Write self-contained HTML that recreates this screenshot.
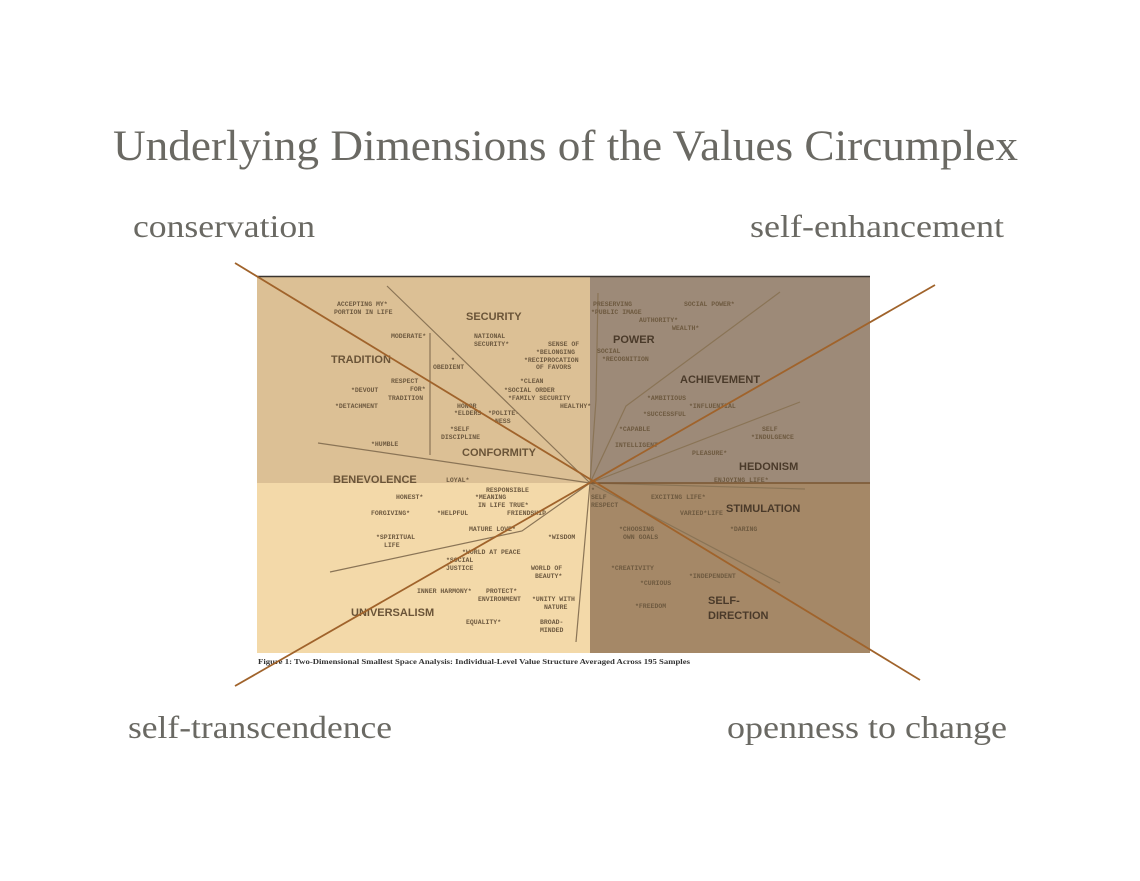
<!DOCTYPE html>
<html><head><meta charset="utf-8"><style>
html,body{margin:0;padding:0;background:#fff;}
body{width:1140px;height:881px;overflow:hidden;}
</style></head><body>
<svg width="1140" height="881" xmlns="http://www.w3.org/2000/svg" style="display:block">
<g font-family="Liberation Serif, serif" fill="#6a6963">
<text x="113" y="160" font-size="43" textLength="905" lengthAdjust="spacingAndGlyphs">Underlying Dimensions of the Values Circumplex</text>
<text x="133" y="237" font-size="32" textLength="182" lengthAdjust="spacingAndGlyphs">conservation</text>
<text x="750" y="237" font-size="32" textLength="254" lengthAdjust="spacingAndGlyphs">self-enhancement</text>
<text x="128" y="738" font-size="32" textLength="264" lengthAdjust="spacingAndGlyphs">self-transcendence</text>
<text x="727" y="738" font-size="32" textLength="280" lengthAdjust="spacingAndGlyphs">openness to change</text>
</g>
<rect x="257" y="276" width="333" height="207" fill="#dcc095"/>
<rect x="590" y="276" width="280" height="207" fill="#9d8a78"/>
<rect x="257" y="483" width="333" height="170" fill="#f3d9a9"/>
<rect x="590" y="483" width="280" height="170" fill="#a58867"/>
<line x1="257" y1="276.5" x2="870" y2="276.5" stroke="#3a3530" stroke-width="1.5"/>
<g stroke="#8a7456" stroke-width="1.2" fill="none">
<polyline points="387,286 590,483"/>
<line x1="430" y1="333" x2="430" y2="455"/>
<line x1="318" y1="443" x2="590" y2="483"/>
<polyline points="590,483 626,406 780,292"/>
<line x1="590" y1="483" x2="800" y2="402"/>
<line x1="590" y1="483" x2="805" y2="489"/>
<polyline points="590,483 522,531 330,572"/>
<line x1="590" y1="483" x2="576" y2="642"/>
<line x1="590" y1="483" x2="780" y2="583"/>
<polyline points="598,293 596,400 590,483"/>
</g>
<line x1="590" y1="483" x2="870" y2="483" stroke="#7a5530" stroke-width="1.5"/>
<g font-family="Liberation Mono, monospace" font-size="6.5" fill="#6e5a40" font-weight="bold">
<text x="337" y="306">ACCEPTING MY*</text><text x="334" y="314">PORTION IN LIFE</text>
<text x="391" y="338">MODERATE*</text>
<text x="474" y="338">NATIONAL</text><text x="474" y="346">SECURITY*</text>
<text x="548" y="346">SENSE OF</text><text x="536" y="354">*BELONGING</text><text x="524" y="362">*RECIPROCATION</text><text x="536" y="369">OF FAVORS</text>
<text x="451" y="362">*</text><text x="433" y="369">OBEDIENT</text>
<text x="391" y="383">RESPECT</text><text x="410" y="391">FOR*</text><text x="388" y="400">TRADITION</text>
<text x="351" y="392">*DEVOUT</text><text x="335" y="408">*DETACHMENT</text>
<text x="520" y="383">*CLEAN</text><text x="504" y="392">*SOCIAL ORDER</text><text x="508" y="400">*FAMILY SECURITY</text><text x="560" y="408">HEALTHY*</text>
<text x="457" y="408">HONOR</text><text x="454" y="415">*ELDERS</text><text x="488" y="415">*POLITE-</text><text x="495" y="423">NESS</text>
<text x="450" y="431">*SELF</text><text x="441" y="439">DISCIPLINE</text>
<text x="371" y="446">*HUMBLE</text>
<text x="446" y="482">LOYAL*</text>
<text x="593" y="306">PRESERVING</text><text x="591" y="314">*PUBLIC IMAGE</text>
<text x="684" y="306">SOCIAL POWER*</text><text x="639" y="322">AUTHORITY*</text><text x="672" y="330">WEALTH*</text>
<text x="597" y="353">SOCIAL</text><text x="602" y="361">*RECOGNITION</text>
<text x="647" y="400">*AMBITIOUS</text><text x="689" y="408">*INFLUENTIAL</text><text x="643" y="416">*SUCCESSFUL</text>
<text x="619" y="431">*CAPABLE</text><text x="615" y="447">INTELLIGENT</text>
<text x="762" y="431">SELF</text><text x="751" y="439">*INDULGENCE</text>
<text x="692" y="455">PLEASURE*</text><text x="714" y="482">ENJOYING LIFE*</text>
<text x="486" y="492">RESPONSIBLE</text><text x="475" y="499">*MEANING</text><text x="478" y="507">IN LIFE  TRUE*</text><text x="507" y="515">FRIENDSHIP</text>
<text x="396" y="499">HONEST*</text><text x="371" y="515">FORGIVING*</text><text x="437" y="515">*HELPFUL</text>
<text x="469" y="531">MATURE LOVE*</text><text x="548" y="539">*WISDOM</text>
<text x="376" y="539">*SPIRITUAL</text><text x="384" y="547">LIFE</text>
<text x="462" y="554">*WORLD AT PEACE</text><text x="446" y="562">*SOCIAL</text><text x="446" y="570">JUSTICE</text>
<text x="531" y="570">WORLD OF</text><text x="535" y="578">BEAUTY*</text>
<text x="417" y="593">INNER HARMONY*</text><text x="486" y="593">PROTECT*</text><text x="478" y="601">ENVIRONMENT</text>
<text x="532" y="601">*UNITY WITH</text><text x="544" y="609">NATURE</text>
<text x="466" y="624">EQUALITY*</text><text x="540" y="624">BROAD-</text><text x="540" y="632">MINDED</text>
<text x="591" y="492">*</text><text x="591" y="499">SELF</text><text x="591" y="507">RESPECT</text>
<text x="651" y="499">EXCITING LIFE*</text><text x="680" y="515">VARIED*LIFE</text><text x="730" y="531">*DARING</text>
<text x="619" y="531">*CHOOSING</text><text x="623" y="539">OWN GOALS</text>
<text x="611" y="570">*CREATIVITY</text><text x="689" y="578">*INDEPENDENT</text><text x="640" y="585">*CURIOUS</text>
<text x="635" y="608">*FREEDOM</text>
</g>
<g font-family="Liberation Sans, sans-serif" font-weight="bold" font-size="11" fill="#6a5438">
<text x="466" y="320">SECURITY</text>
<text x="331" y="363">TRADITION</text>
<text x="462" y="456">CONFORMITY</text>
<text x="333" y="483">BENEVOLENCE</text>
<text x="351" y="616">UNIVERSALISM</text>
</g>
<g font-family="Liberation Sans, sans-serif" font-weight="bold" font-size="11" fill="#4a3a2a">
<text x="613" y="343">POWER</text>
<text x="680" y="383">ACHIEVEMENT</text>
<text x="739" y="470">HEDONISM</text>
<text x="726" y="512">STIMULATION</text>
<text x="708" y="604">SELF-</text><text x="708" y="619">DIRECTION</text>
</g>
<text x="258" y="664" font-family="Liberation Serif, serif" font-weight="bold" font-size="7.5" fill="#333" textLength="432" lengthAdjust="spacingAndGlyphs">Figure 1:    Two-Dimensional Smallest Space Analysis: Individual-Level Value Structure Averaged Across 195 Samples</text>
<g stroke="#a0632b" stroke-width="1.8">
<line x1="235" y1="263" x2="920" y2="680"/>
<line x1="235" y1="686" x2="935" y2="285"/>
</g>
</svg>
</body></html>
